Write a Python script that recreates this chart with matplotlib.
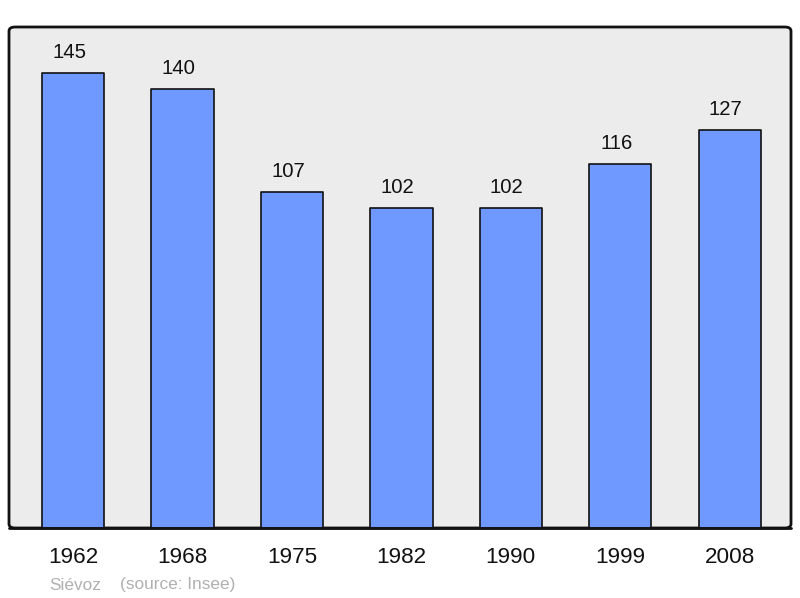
import matplotlib
matplotlib.use("Agg")
import matplotlib.pyplot as plt
from matplotlib.patches import FancyBboxPatch

years = ["1962", "1968", "1975", "1982", "1990", "1999", "2008"]
population = [145, 140, 107, 102, 102, 116, 127]

plt.rcParams['font.family'] = ['Liberation Sans', 'DejaVu Sans']

fig = plt.figure(figsize=(8, 5.98), dpi=100)
ax = fig.add_axes([9/800, 1 - 528/598, 782/800, 501/598])
ax.set_facecolor('none')

x = list(range(len(years)))
bars = ax.bar(x, population, width=0.57, color='#7099ff', edgecolor='#111111',
              linewidth=1.2, zorder=3)
for b in bars:
    b.set_joinstyle('round')

for xi, v in zip(x, population):
    ax.annotate(str(v), (xi, v), xytext=(-4, 15), textcoords='offset pixels',
                ha='center', va='baseline', fontsize=14.6, color='#111111')

ax.set_xlim(-0.585, 6.56)
ax.set_ylim(0, 159.7)
ax.set_xticks(x)
ax.set_xticklabels(years, fontsize=16.2, color='#111111')
ax.tick_params(axis='x', length=0, pad=14)
ax.set_yticks([])
for s in ax.spines.values():
    s.set_visible(False)

frame = FancyBboxPatch((0, 0), 1, 1, boxstyle='round,pad=0,rounding_size=0.008',
                       transform=ax.transAxes, facecolor='#ececec',
                       edgecolor='#111111', linewidth=2, zorder=0, clip_on=False)
ax.add_patch(frame)
ax.plot([0, 1], [0, 0], transform=ax.transAxes, color='#111111', lw=2,
        zorder=4, clip_on=False, solid_capstyle='round')

fig.text(49/800, 1 - 585/598, "Siévoz", fontsize=12.4, color='#b0b0b0',
         ha='left', va='center')
fig.text(120/800, 1 - 585/598, "(source: Insee)", fontsize=12.4, color='#b0b0b0',
         ha='left', va='center')

fig.savefig("out.png", dpi=100)
